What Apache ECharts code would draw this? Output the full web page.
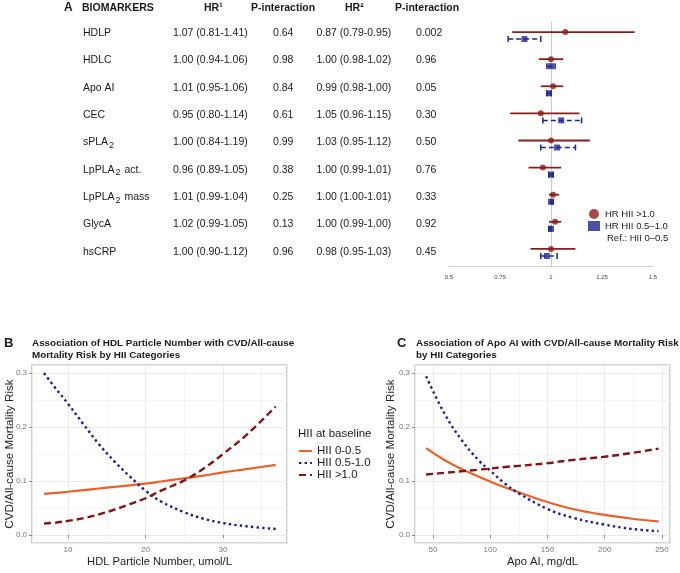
<!DOCTYPE html>
<html>
<head>
<meta charset="UTF-8">
<title>HII biomarkers</title>
<script src="https://cdn.jsdelivr.net/npm/echarts@6/dist/echarts.min.js"></script>
</head>
<body style="margin:0;background:#fff">
<div id="container" style="width:680px;height:573px"></div>
<script type="text/javascript">
// panel A table + forest
var biomarkers = ['HDLP', 'HDLC', 'Apo AI', 'CEC', 'sPLA{s|2}', 'LpPLA{s|2} act.', 'LpPLA{s|2} mass', 'GlycA', 'hsCRP'];
var hr1 = [1.07, 1.00, 1.01, 0.95, 1.00, 0.96, 1.01, 1.02, 1.00];
var hr1Lo = [0.81, 0.94, 0.95, 0.80, 0.84, 0.89, 0.99, 0.99, 0.90];
var hr1Hi = [1.41, 1.06, 1.06, 1.14, 1.19, 1.05, 1.04, 1.05, 1.12];
var p1 = ['0.64', '0.98', '0.84', '0.61', '0.99', '0.38', '0.25', '0.13', '0.96'];
var hr2 = [0.87, 1.00, 0.99, 1.05, 1.03, 1.00, 1.00, 1.00, 0.98];
var hr2Lo = [0.79, 0.98, 0.98, 0.96, 0.95, 0.99, 1.00, 0.99, 0.95];
var hr2Hi = [0.95, 1.02, 1.00, 1.15, 1.12, 1.01, 1.01, 1.00, 1.03];
var p2 = ['0.002', '0.96', '0.05', '0.30', '0.50', '0.76', '0.33', '0.92', '0.45'];
var headers = ['BIOMARKERS', 'HR\u00b9', 'P-interaction', 'HR\u00b2', 'P-interaction'];

// panel B: HDL particle number
var hdlX = [6.9, 8.5, 10, 12, 14, 16, 18, 20, 22, 25, 27.5, 30, 33, 36.8];
var hdlLow = [0.076, 0.078, 0.080, 0.083, 0.086, 0.089, 0.092, 0.095, 0.099, 0.105, 0.110, 0.116, 0.122, 0.130];
var hdlMid = [0.300, 0.270, 0.243, 0.205, 0.168, 0.136, 0.108, 0.082, 0.062, 0.042, 0.030, 0.022, 0.016, 0.011];
var hdlHigh = [0.021, 0.023, 0.026, 0.031, 0.038, 0.047, 0.057, 0.068, 0.082, 0.101, 0.123, 0.150, 0.185, 0.238];

// panel C: Apo AI
var apoX = [44, 60, 75, 90, 100, 113, 125, 150, 172, 200, 224, 247];
var apoLow = [0.161, 0.139, 0.122, 0.108, 0.099, 0.088, 0.079, 0.061, 0.048, 0.037, 0.030, 0.025];
var apoMid = [0.294, 0.225, 0.176, 0.138, 0.119, 0.095, 0.077, 0.048, 0.032, 0.019, 0.011, 0.007];
var apoHigh = [0.112, 0.115, 0.118, 0.121, 0.123, 0.126, 0.128, 0.133, 0.139, 0.145, 0.152, 0.160];

var groups = ['HII 0-0.5', 'HII 0.5-1.0', 'HII >1.0'];
var hrNames = ['HR HII >1.0', 'HR HII 0.5\u20131.0'];
var minorB = [15, 25, 35];
var minorC = [75, 125, 175, 225];
var minorY = [0.05, 0.15, 0.25];

var FONT = '"Liberation Sans", Arial, sans-serif';
var cOrange = '#e8602a', cNavy = '#1c1c82', cRed = '#801417';
var fRed = '#8b1c1c', fBlue = '#1d268c';
var SHIFT = 0.13;

var dom = document.getElementById('container');
var myChart = echarts.init(dom);

function fmt(v, lo, hi) {
    return v.toFixed(2) + ' (' + lo.toFixed(2) + '-' + hi.toFixed(2) + ')';
}

// table text
var graphics = [];
function txt(x, y, s, opt) {
    opt = opt || {};
    graphics.push({
        type: 'text', x: x, y: y, silent: true,
        style: {
            text: s, fill: opt.fill || '#1a1a1a', fontFamily: FONT,
            fontSize: opt.size || 10.5, fontWeight: opt.bold ? 'bold' : 'normal',
            verticalAlign: 'middle', align: opt.align || 'left',
            lineHeight: opt.lh, rich: opt.rich
        }
    });
}
txt(64, 8, 'A', {bold: true, size: 12});
var headX = [82, 204, 251, 345, 395];
headers.forEach(function (h, i) { txt(headX[i], 8, h, {bold: true}); });
var subRich = {s: {fontSize: 9, fontFamily: FONT, fill: '#1a1a1a', padding: [6, 1, 0, 1]}};
biomarkers.forEach(function (b, i) {
    var y = 33.3 + i * 27.3;
    txt(83, y, b, {rich: subRich});
    txt(173, y, fmt(hr1[i], hr1Lo[i], hr1Hi[i]));
    txt(273, y, p1[i]);
    txt(316.5, y, fmt(hr2[i], hr2Lo[i], hr2Hi[i]));
    txt(416, y, p2[i]);
});
txt(607, 238, 'Ref.: HII 0\u20130.5', {size: 9.5});
// lower panel titles
txt(4, 343, 'B', {bold: true, size: 13});
txt(32, 349, 'Association of HDL Particle Number with CVD/All-cause\nMortality Risk by HII Categories', {bold: true, size: 9.9, lh: 12});
txt(397, 343, 'C', {bold: true, size: 13});
txt(416, 349, 'Association of Apo AI with CVD/All-cause Mortality Risk\nby HII Categories', {bold: true, size: 9.9, lh: 12});
txt(298, 434, 'HII at baseline', {size: 11.5});

function zip(xs, ys) { return xs.map(function (x, i) { return [x, ys[i]]; }); }

var rowsRed = hr1.map(function (v, i) { return [i - SHIFT, hr1Lo[i], hr1Hi[i]]; });
var rowsBlue = hr2.map(function (v, i) { return [i + SHIFT, hr2Lo[i], hr2Hi[i]]; });

function redBar(params, api) {
    var a = api.coord([api.value(1), api.value(0)]);
    var b = api.coord([api.value(2), api.value(0)]);
    return {type: 'line', shape: {x1: a[0], y1: a[1], x2: b[0], y2: b[1]},
        style: {stroke: fRed, lineWidth: 1.8}};
}
function blueBar(params, api) {
    var a = api.coord([api.value(1), api.value(0)]);
    var b = api.coord([api.value(2), api.value(0)]);
    var h = 3;
    return {type: 'group', children: [
        {type: 'line', shape: {x1: a[0], y1: a[1], x2: b[0], y2: b[1]},
            style: {stroke: fBlue, lineWidth: 1.5, lineDash: [5, 3]}},
        {type: 'line', shape: {x1: a[0], y1: a[1] - h, x2: a[0], y2: a[1] + h},
            style: {stroke: fBlue, lineWidth: 1.5}},
        {type: 'line', shape: {x1: b[0], y1: b[1] - h, x2: b[0], y2: b[1] + h},
            style: {stroke: fBlue, lineWidth: 1.5}}
    ]};
}

function minorLines(xs, ys) {
    var d = xs.map(function (v) { return {xAxis: v}; })
        .concat(ys.map(function (v) { return {yAxis: v}; }));
    return {silent: true, symbol: 'none', label: {show: false},
        lineStyle: {color: '#f3f3f3', width: 0.8, type: 'solid'}, data: d, animation: false};
}

function lineSeries(name, data, xi, color, type, width, minor) {
    var s = {
        name: name, type: 'line', xAxisIndex: xi, yAxisIndex: xi, data: data,
        smooth: 0.4, symbol: 'none', z: 5,
        lineStyle: {color: color, width: width, type: type}, itemStyle: {color: color}
    };
    if (minor) s.markLine = minor;
    return s;
}

var yFmt = function (v) { return v.toFixed(1); };
var valAxisLabel = {fontSize: 8, color: '#777', fontFamily: FONT, showMinLabel: false, showMaxLabel: false};
var majorSplit = {show: true, lineStyle: {color: '#ebebeb', width: 1}};
var axTick = {show: true, length: 3, lineStyle: {color: '#888'}};
var nameStyle = {fontSize: 11.7, color: '#222', fontFamily: FONT};
var xNameStyle = {fontSize: 11.2, color: '#222', fontFamily: FONT};

option = {
    animation: false,
    backgroundColor: '#fff',
    textStyle: {fontFamily: FONT},
    graphic: graphics,
    grid: [
        {left: 449, width: 204, top: 22, height: 244},
        {left: 32, width: 255, top: 365, height: 178, show: true, borderColor: '#b0b0b0', borderWidth: 1.2, backgroundColor: '#fff'},
        {left: 415, width: 255, top: 365, height: 178, show: true, borderColor: '#b0b0b0', borderWidth: 1.2, backgroundColor: '#fff'}
    ],
    xAxis: [
        {type: 'value', gridIndex: 0, min: 0.5, max: 1.5, interval: 0.25,
            axisLine: {show: true, onZero: false, lineStyle: {color: '#d0d0d0'}}, axisTick: {show: false},
            splitLine: {show: false},
            axisLabel: {fontSize: 6, color: '#444', margin: 8}},
        {type: 'value', gridIndex: 1, min: 5.35, max: 38.26, splitNumber: 3,
            axisLine: {show: false}, axisTick: axTick, splitLine: majorSplit,
            axisLabel: Object.assign({margin: 3}, valAxisLabel),
            name: 'HDL Particle Number, umol/L', nameLocation: 'middle', nameGap: 13,
            nameMoveOverlap: false, nameTextStyle: xNameStyle},
        {type: 'value', gridIndex: 2, min: 34.3, max: 257, splitNumber: 4,
            axisLine: {show: false}, axisTick: axTick, splitLine: majorSplit,
            axisLabel: Object.assign({margin: 3}, valAxisLabel),
            name: 'Apo AI, mg/dL', nameLocation: 'middle', nameGap: 13,
            nameMoveOverlap: false, nameTextStyle: xNameStyle}
    ],
    yAxis: [
        {type: 'value', gridIndex: 0, min: -0.5, max: 8.5, inverse: true, show: false},
        {type: 'value', gridIndex: 1, min: -0.015, max: 0.315, splitNumber: 3,
            axisLine: {show: false}, axisTick: axTick, splitLine: majorSplit,
            axisLabel: Object.assign({margin: 5, formatter: yFmt}, valAxisLabel),
            name: 'CVD/All-cause Mortality Risk', nameLocation: 'middle', nameGap: 16,
            nameMoveOverlap: false, nameTextStyle: nameStyle},
        {type: 'value', gridIndex: 2, min: -0.015, max: 0.315, splitNumber: 3,
            axisLine: {show: false}, axisTick: axTick, splitLine: majorSplit,
            axisLabel: Object.assign({margin: 5, formatter: yFmt}, valAxisLabel),
            name: 'CVD/All-cause Mortality Risk', nameLocation: 'middle', nameGap: 18,
            nameMoveOverlap: false, nameTextStyle: nameStyle}
    ],
    legend: [
        {data: groups, orient: 'vertical', left: 298, top: 445, itemGap: 0, padding: 0,
            itemWidth: 13, itemHeight: 8, selectedMode: false, itemStyle: {opacity: 0},
            textStyle: {fontSize: 11.5, lineHeight: 11.5, color: '#222', fontFamily: FONT}},
        {data: hrNames, orient: 'vertical', left: 588, top: 209, itemGap: 2, padding: 0,
            itemWidth: 12, itemHeight: 10, selectedMode: false,
            textStyle: {fontSize: 9.5, color: '#222', fontFamily: FONT}}
    ],
    series: [
        {type: 'custom', xAxisIndex: 0, yAxisIndex: 0, renderItem: redBar, data: rowsRed,
            encode: {x: [1, 2], y: 0}, silent: true},
        {type: 'custom', xAxisIndex: 0, yAxisIndex: 0, renderItem: blueBar, data: rowsBlue,
            encode: {x: [1, 2], y: 0}, silent: true},
        {name: hrNames[0], type: 'scatter', xAxisIndex: 0, yAxisIndex: 0, symbol: 'circle', symbolSize: 6,
            itemStyle: {color: fRed}, z: 4,
            markLine: {silent: true, symbol: 'none', label: {show: false}, z: 1,
                lineStyle: {color: '#c9c9d9', width: 1, type: 'solid'}, data: [{xAxis: 1}]},
            data: hr1.map(function (v, i) { return [v, i - SHIFT]; })},
        {name: hrNames[1], type: 'scatter', xAxisIndex: 0, yAxisIndex: 0, symbol: 'rect', symbolSize: 6,
            itemStyle: {color: fBlue}, z: 4,
            data: hr2.map(function (v, i) { return [v, i + SHIFT]; })},

        lineSeries(groups[0], zip(hdlX, hdlLow), 1, cOrange, 'solid', 2.2, minorLines(minorB, minorY)),
        lineSeries(groups[1], zip(hdlX, hdlMid), 1, cNavy, [2.4, 3.2], 2.4),
        lineSeries(groups[2], zip(hdlX, hdlHigh), 1, cRed, [7, 4], 2.4),
        lineSeries(groups[0], zip(apoX, apoLow), 2, cOrange, 'solid', 2.2, minorLines(minorC, minorY)),
        lineSeries(groups[1], zip(apoX, apoMid), 2, cNavy, [2.4, 3.2], 2.4),
        lineSeries(groups[2], zip(apoX, apoHigh), 2, cRed, [7, 4], 2.4)
    ]
};

if (option && typeof option === 'object') {
    myChart.setOption(option, true);
}
</script>
</body>
</html>
